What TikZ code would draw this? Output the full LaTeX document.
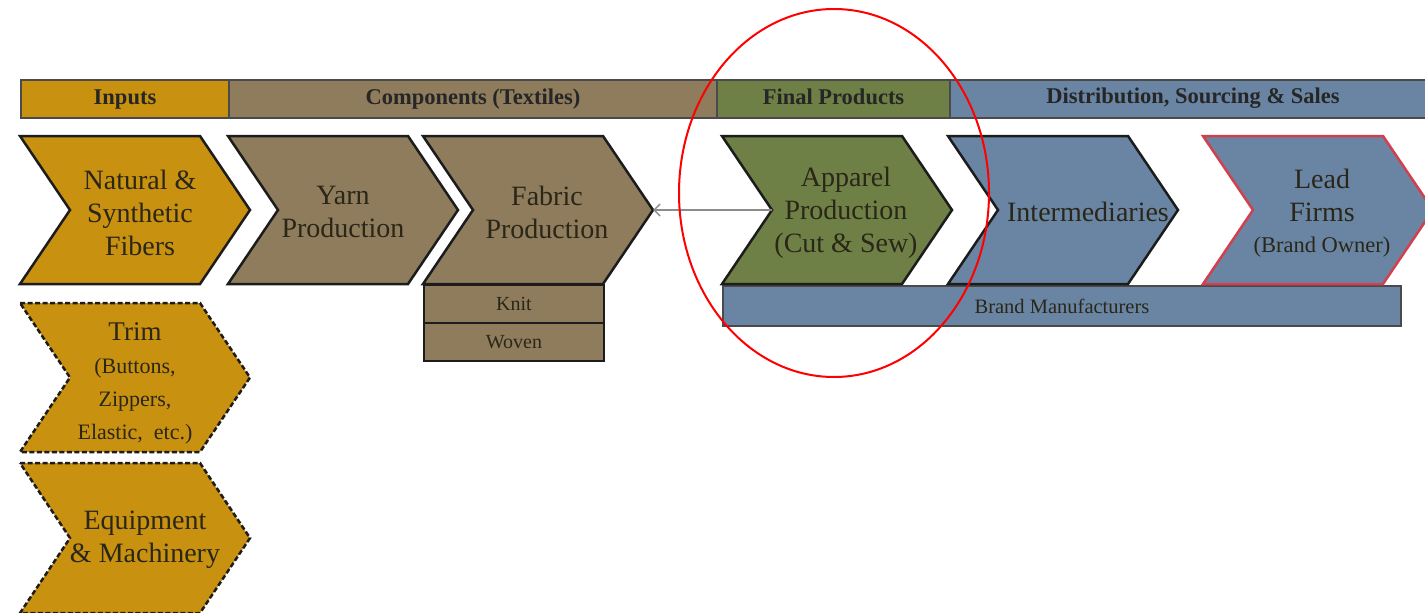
\documentclass[tikz,border=0pt]{standalone}
\usepackage{fontspec}
\setmainfont{Liberation Serif}
\usetikzlibrary{arrows.meta}
\definecolor{gold}{HTML}{C8910F}
\definecolor{tanc}{HTML}{8E7C5C}
\definecolor{olive}{HTML}{6E8046}
\definecolor{steel}{HTML}{6A85A3}
\definecolor{ink}{HTML}{2A2618}
\definecolor{edge}{HTML}{1C1C1C}
\definecolor{hedge}{HTML}{4A4A4A}
\definecolor{leadred}{HTML}{D0404F}
\newcommand{\chevshape}[4]{%
  \draw[#4] (#1,#2) -- ({#1+180},#2) -- ({#1+230},{(#2+#3)/2}) -- ({#1+180},#3) -- (#1,#3) -- ({#1+50},{(#2+#3)/2}) -- cycle;}
\tikzset{
  chev/.style={draw=edge, line width=2.5pt, line join=miter},
  dchev/.style={chev, dashed, dash pattern=on 5pt off 2.5pt},
  hdrfont/.style={font=\fontsize{22.5}{24}\selectfont\bfseries, text=black!85, text height=15pt, text depth=5pt},
  hdr/.style={draw=hedge, line width=2pt, minimum height=38pt, anchor=north west, inner sep=0pt, hdrfont},
  big/.style={align=center, text=ink, font=\fontsize{28}{33}\selectfont, inner sep=0pt},
  subbox/.style={draw=edge, line width=2pt, fill=tanc, minimum width=180pt, minimum height=38pt, inner sep=0pt,
    text=ink, font=\fontsize{20}{22}\selectfont},
  arr/.style={draw=black!45, line width=1.5pt, -{Straight Barb[length=6pt,width=12pt]}},
  ring/.style={draw=red, line width=2pt}
}
\begin{document}
\begin{tikzpicture}[x=1pt,y=-1pt]
\useasboundingbox (0,0) rectangle (1425,613);
\fill[white] (0,0) rectangle (1425,613);
% header bar
\node[hdr, fill=gold, minimum width=208pt] (hin) at (20,79) {Inputs};
\node[hdr, fill=tanc, minimum width=488pt] (hcomp) at (228,79) {Components (Textiles)};
\node[hdr, fill=olive, minimum width=233pt] (hfin) at (716,79) {Final Products};
\node[hdr, fill=steel, minimum width=490pt] (hdist) at (949,79) {};
\node[hdrfont, inner sep=0pt] (hdistt) at (1193,98) {Distribution, Sourcing \& Sales};
% brand manufacturers bar
\node[draw=hedge, line width=2pt, fill=steel, minimum width=678pt, minimum height=40pt, inner sep=0pt,
  anchor=north west, text=ink, font=\fontsize{20.5}{22}\selectfont] (brand) at (722,285) {Brand Manufacturers};
% knit / woven
\node[subbox, anchor=north west] (knit) at (423,284) {Knit};
\node[subbox, anchor=north west] (woven) at (423,322) {Woven};
% chevrons
\chevshape{20}{136}{284}{chev, fill=gold}
\chevshape{228}{136}{284}{chev, fill=tanc}
\chevshape{423}{136}{284}{chev, fill=tanc}
\chevshape{722}{136}{284}{chev, fill=olive}
\chevshape{948}{136}{284}{chev, fill=steel}
\chevshape{1203}{136}{284}{chev, fill=steel, draw=leadred}
\chevshape{20}{303}{452}{dchev, fill=gold}
\chevshape{20}{463}{613}{dchev, fill=gold}
% texts
\node[big] (fibers) at (140,213) {Natural \&\\Synthetic\\Fibers};
\node[big] (yarn) at (343,212) {Yarn\\Production};
\node[big] (fabric) at (547,212) {Fabric\\Production};
\node[big] (apparel) at (846,213) {Apparel\\Production\\(Cut \& Sew)};
\node[big] (inter) at (1088,212) {Intermediaries};
\node[big] (lead) at (1322,213) {Lead\\Firms\\[-2pt]{\fontsize{22.5}{24}\selectfont(Brand Owner)}};
\node[big] (trim) at (135,383) {\fontsize{27}{31}\selectfont Trim\\{\fontsize{22}{30}\selectfont(Buttons,}\\{\fontsize{22}{30}\selectfont Zippers,}\\{\fontsize{22}{30}\selectfont Elastic,\ \ etc.)}};
\node[big] (equip) at (145,540) {Equipment\\\& Machinery};
% connector
\coordinate (fabtip) at (653,210);
\coordinate (appnotch) at (772,210);
\draw[arr] (appnotch) -- (fabtip);
% highlight ring
\draw[ring] (834,193) ellipse [x radius=155pt, y radius=184pt];
\end{tikzpicture}
\end{document}
